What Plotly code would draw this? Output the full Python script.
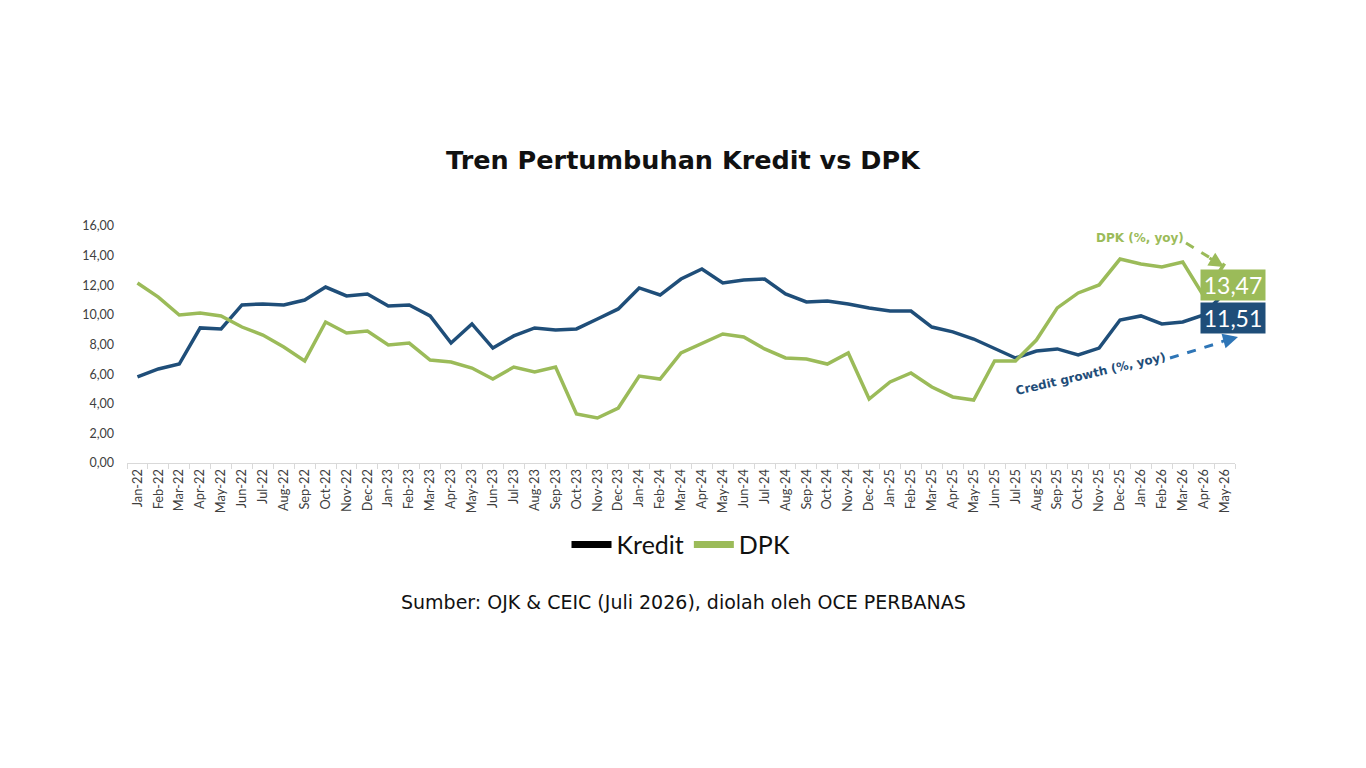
import plotly.graph_objects as go

months = ["Jan", "Feb", "Mar", "Apr", "May", "Jun", "Jul", "Aug", "Sep", "Oct", "Nov", "Dec"]
bulan = [f"{m}-{y}" for y in ["22", "23", "24", "25"] for m in months] + \
        ["Jan-26", "Feb-26", "Mar-26", "Apr-26", "May-26"]

kredit = [5.81, 6.35, 6.68, 9.12, 9.05, 10.67, 10.74, 10.67, 11.00, 11.88, 11.28, 11.41,
          10.60, 10.67, 9.93, 8.10, 9.39, 7.76, 8.58, 9.12, 8.98, 9.05, 9.72, 10.40,
          11.82, 11.34, 12.42, 13.10, 12.15, 12.36, 12.42, 11.41, 10.87, 10.94, 10.74, 10.47,
          10.26, 10.26, 9.18, 8.85, 8.37, 7.76, 7.09, 7.56, 7.70, 7.29, 7.76, 9.65,
          9.93, 9.39, 9.52, 9.99, 11.51]

dpk = [12.15, 11.20, 9.99, 10.13, 9.93, 9.18, 8.64, 7.83, 6.89, 9.52, 8.78, 8.91,
       7.97, 8.10, 6.95, 6.82, 6.41, 5.67, 6.48, 6.14, 6.48, 3.31, 3.04, 3.71,
       5.87, 5.67, 7.43, 8.10, 8.71, 8.51, 7.70, 7.09, 7.02, 6.68, 7.43, 4.32,
       5.47, 6.08, 5.13, 4.46, 4.25, 6.89, 6.89, 8.30, 10.47, 11.48, 12.02, 13.77,
       13.44, 13.23, 13.57, 11.28, 13.47]

BIRU = "#1F4E79"
HIJAU = "#9BBB59"

# plot area in pixels (for placing notes)
L, R, T, B = 127, 1235, 226, 463


def px(x, y):
    return (x - L) / (R - L), (B - y) / (B - T)


def note(xp, yp, **kw):
    x0, y0 = px(xp, yp)
    d = dict(x=x0, y=y0, xref="paper", yref="paper", xanchor="center", yanchor="middle",
             showarrow=False)
    d.update(kw)
    return d


fig = go.Figure()
fig.add_trace(go.Scatter(x=bulan, y=kredit, mode="lines", name="Kredit",
                         line=dict(color=BIRU, width=3.5), showlegend=False))
fig.add_trace(go.Scatter(x=bulan, y=dpk, mode="lines", name="DPK",
                         line=dict(color=HIJAU, width=3.5), showlegend=False))
# legend entries (Excel shows Kredit in black)
fig.add_trace(go.Scatter(x=[None], y=[None], mode="lines", name="Kredit",
                         line=dict(color="black", width=7)))
fig.add_trace(go.Scatter(x=[None], y=[None], mode="lines", name="DPK",
                         line=dict(color=HIJAU, width=7)))

notes = []
shapes = []

# DPK note
notes.append(note(1140, 238, text="<b>DPK (%, yoy)</b>",
                  font=dict(family="DejaVu Sans", size=12, color=HIJAU)))
a0, b0 = px(1186, 243)
a1, b1 = px(1212, 259)
shapes.append(dict(type="line", xref="paper", yref="paper", x0=a0, y0=b0, x1=a1, y1=b1,
                   line=dict(color=HIJAU, width=3, dash="dash")))
notes.append(note(1224, 267, text="", showarrow=True, ax=-16, ay=-10, arrowhead=2,
                  arrowsize=1, arrowwidth=3, arrowcolor=HIJAU))

# credit growth note
notes.append(note(1090, 374, text="<b>Credit growth (%, yoy)</b>", textangle=-13,
                  font=dict(family="DejaVu Sans", size=12, color=BIRU)))
a0, b0 = px(1170, 358)
a1, b1 = px(1222, 342)
shapes.append(dict(type="line", xref="paper", yref="paper", x0=a0, y0=b0, x1=a1, y1=b1,
                   line=dict(color="#2E75B6", width=3, dash="dash")))
notes.append(note(1238, 337, text="", showarrow=True, ax=-18, ay=5, arrowhead=2,
                  arrowsize=1, arrowwidth=3, arrowcolor="#2E75B6"))

# value boxes
for val, col, ypix in [(dpk[-1], HIJAU, 285), (kredit[-1], BIRU, 318)]:
    notes.append(note(1233, ypix, text=f"{val:.2f}".replace(".", ","), bgcolor=col,
                      borderpad=0, width=64, height=30,
                      font=dict(family="Lato", size=23, color="white")))

# source
notes.append(note(683, 602, text="Sumber: OJK & CEIC (Juli 2026), diolah oleh OCE PERBANAS",
                  font=dict(family="DejaVu Sans", size=19, color="#111111")))

fig.update_layout(
    width=1366, height=768,
    paper_bgcolor="white", plot_bgcolor="white",
    margin=dict(l=L, r=1366 - R, t=T, b=768 - B),
    separators=",.",
    title=dict(text="<b>Tren Pertumbuhan Kredit vs DPK</b>", x=0.5, xanchor="center",
               y=1 - 160 / 768, yanchor="middle", yref="container",
               font=dict(family="DejaVu Sans", size=25.5, color="#111111")),
    xaxis=dict(type="category", range=[-0.5, len(bulan) - 0.5], tickangle=-90,
               tickson="boundaries", ticks="outside",
               ticklen=5, tickcolor="#d9d9d9", showline=True, linecolor="#d9d9d9",
               showgrid=False, tickfont=dict(family="Lato", size=12.8, color="#404040")),
    yaxis=dict(range=[0, 16], dtick=2, tickformat=".2f", showgrid=False, zeroline=False,
               ticklabelstandoff=12,
               tickfont=dict(family="Lato", size=12.5, color="#404040")),
    legend=dict(orientation="h", x=0.5, xanchor="center", y=-0.345, yanchor="middle",
                font=dict(family="Lato", size=25, color="#111111"), itemwidth=40),
    annotations=notes,
    shapes=shapes,
)

fig.write_html("out.html", config={"displayModeBar": False},
               post_script="document.body.style.margin='0';")
